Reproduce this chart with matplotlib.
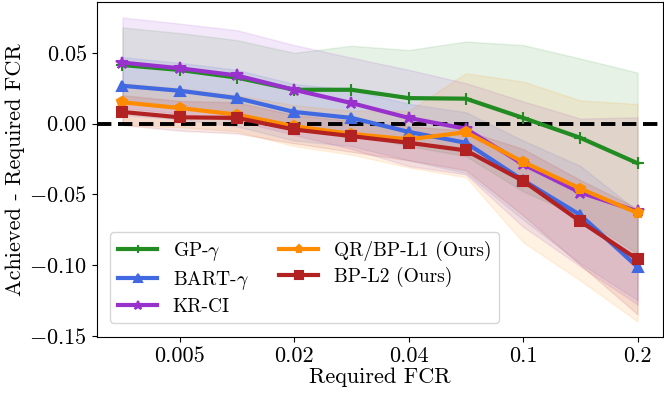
import matplotlib
matplotlib.use("Agg")
import matplotlib.pyplot as plt
import numpy as np

plt.rcParams['font.family'] = 'serif'
plt.rcParams['font.serif'] = ['cmr10']
plt.rcParams['mathtext.fontset'] = 'cm'
plt.rcParams['axes.formatter.use_mathtext'] = True
plt.rcParams['axes.unicode_minus'] = True

fcr = ["0.001", "0.005", "0.01", "0.02", "0.03", "0.04", "0.05", "0.1", "0.15", "0.2"]
tick_idx = [1, 3, 5, 7, 9]
tick_labels = ["0.005", "0.02", "0.04", "0.1", "0.2"]

gp = [0.0414, 0.0379, 0.0325, 0.0239, 0.0239, 0.018, 0.0176, 0.004, -0.0101, -0.0281]
gp_up = [0.068, 0.064, 0.059, 0.050, 0.055, 0.052, 0.058, 0.0555, 0.046, 0.036]
gp_lo = [0.015, 0.012, 0.006, -0.002, -0.007, -0.016, -0.023, -0.048, -0.066, -0.092]

bart = [0.0267, 0.0232, 0.018, 0.0082, 0.004, -0.0059, -0.0136, -0.0401, -0.0647, -0.1015]
bart_up = [0.047, 0.043, 0.038, 0.028, 0.024, 0.014, 0.008, -0.012, -0.030, -0.062]
bart_lo = [0.006, 0.003, -0.002, -0.012, -0.016, -0.026, -0.035, -0.068, -0.099, -0.125]

kr = [0.0431, 0.0391, 0.034, 0.0239, 0.0145, 0.004, -0.0037, -0.0288, -0.0488, -0.0621]
kr_up = [0.075, 0.0707, 0.066, 0.0555, 0.0466, 0.038, 0.0286, 0.0157, 0.0035, 0.0044]
kr_lo = [0.011, 0.007, 0.002, -0.008, -0.018, -0.030, -0.036, -0.073, -0.101, -0.128]

qr = [0.015, 0.011, 0.0063, -0.0019, -0.0073, -0.0112, -0.0061, -0.0272, -0.046, -0.0633]
qr_up = [0.0285, 0.025, 0.020, 0.013, 0.009, 0.009, 0.0356, 0.0297, 0.0164, 0.0138]
qr_lo = [-0.001, -0.0025, -0.0055, -0.016, -0.022, -0.031, -0.038, -0.084, -0.111, -0.140]

bp = [0.0082, 0.0044, 0.004, -0.0042, -0.0089, -0.0136, -0.019, -0.0406, -0.0692, -0.0961]
bp_up = [0.020, 0.016, 0.015, 0.006, 0.002, -0.002, -0.005, -0.018, -0.040, -0.060]
bp_lo = [-0.001, -0.005, -0.007, -0.014, -0.020, -0.026, -0.033, -0.065, -0.100, -0.135]

series = [
    ("GP-$\\gamma$", gp, gp_lo, gp_up, "#228B22", "+"),
    ("BART-$\\gamma$", bart, bart_lo, bart_up, "#4169E1", "^"),
    ("KR-CI", kr, kr_lo, kr_up, "#9932CC", "*"),
    ("QR/BP-L1 (Ours)", qr, qr_lo, qr_up, "#FF8C00", "p"),
    ("BP-L2 (Ours)", bp, bp_lo, bp_up, "#B22222", "s"),
]

fig = plt.figure(figsize=(6.64, 3.96), dpi=100)
ax = fig.add_axes([0.1456, 0.149, 0.8534, 0.846])
x = np.arange(len(fcr))
for name, y, lo, up, c, m in series:
    ax.fill_between(x, lo, up, color=c, alpha=0.11, linewidth=1)
for name, y, lo, up, c, m in series:
    ms = 9 if m in ("+", "*") else 7.5
    ax.plot(x, y, color=c, marker=m, lw=3, ms=ms, mew=1.5, label=name)
ax.axhline(0, color="black", lw=2.8, ls=(0, (3.7, 1.7)), zorder=1.5)

ax.set_xlim(-0.45, 9.45)
ax.set_ylim(-0.151, 0.086)
ax.set_xticks(tick_idx)
ax.set_xticklabels(tick_labels)
ax.set_yticks([-0.15, -0.10, -0.05, 0.00, 0.05])
ax.tick_params(labelsize=16)
ax.set_xlabel("Required FCR", fontsize=16, labelpad=1)
ax.set_ylabel("Achieved - Required FCR", fontsize=16, labelpad=3)
ax.legend(loc="lower left", ncol=2, fontsize=14, markerscale=0.7,
          borderaxespad=0.7, columnspacing=1.6, handletextpad=0.8, labelspacing=0.3)
fig.savefig("out.png", dpi=100)
